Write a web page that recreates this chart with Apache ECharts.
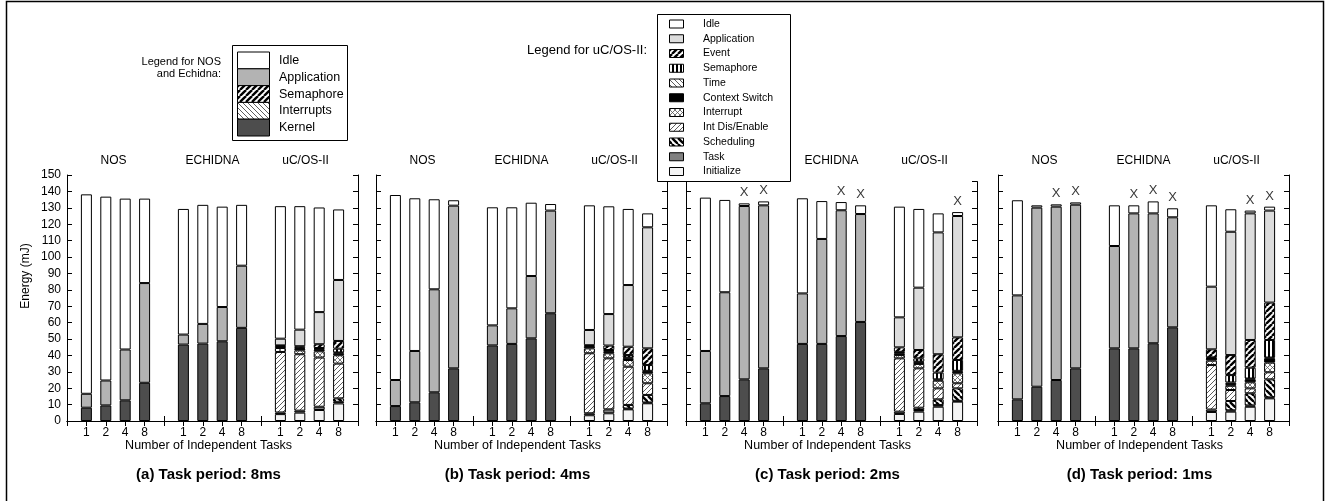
<!DOCTYPE html>
<html><head><meta charset="utf-8">
<script src="https://cdn.jsdelivr.net/npm/echarts@6/dist/echarts.min.js"></script>
<style>html,body{margin:0;padding:0;background:#fff;}#c{width:1326px;height:501px;}</style>
</head><body><div id="c"></div>
<script>
// ---------- data ----------
const tickLabels = ['', '1', '2', '4', '8', '', '1', '2', '4', '8', '', '1', '2', '4', '8', ''];
const groupNames = ['NOS', 'ECHIDNA', 'uC/OS-II'];
const panelTitles = ['(a) Task period: 8ms', '(b) Task period: 4ms', '(c) Task period: 2ms', '(d) Task period: 1ms'];

// NOS (1,2,4,8 tasks) followed by ECHIDNA (1,2,4,8 tasks); one row per panel (a..d)
const kernel = [
  [8.1, 9.5, 12.6, 23.3, 46.6, 47.2, 48.6, 56.8],
  [9.1, 11.4, 17.5, 32.1, 46.1, 47.0, 50.4, 65.7],
  [10.8, 15.2, 25.4, 32.1, 47.0, 47.0, 51.8, 60.4],
  [13.2, 20.9, 25.0, 32.1, 44.3, 44.3, 47.4, 57.1]
];
const application = [
  [8.5, 15.2, 31.0, 60.8, 6.1, 12.0, 20.9, 37.9],
  [15.9, 31.3, 62.8, 99.2, 12.2, 21.7, 38.0, 62.6],
  [31.9, 63.3, 105.7, 99.4, 30.8, 64.0, 76.7, 65.8],
  [63.4, 109.2, 105.7, 99.8, 62.4, 82.3, 79.2, 67.1]
];
const idle = [
  [121.6, 112.1, 92.0, 51.5, 76.6, 72.6, 61.2, 37.1],
  [112.8, 93.1, 54.9, 3.3, 72.0, 61.6, 44.7, 4.0],
  [93.5, 56.3, 1.6, 2.4, 58.0, 23.1, 5.0, 5.3],
  [58.0, 1.4, 1.4, 1.4, 24.8, 4.9, 7.3, 5.5]
];

// uC/OS-II (1,2,4,8 tasks); one row per panel (a..d)
const ucInitialize = [[4.2, 5.1, 6.7, 10.7], [3.5, 4.7, 7.1, 10.8], [4.3, 5.7, 8.7, 11.8], [5.5, 5.7, 8.7, 13.8]];
const ucTask = [[1.0, 1.2, 2.0, 1.0], [1.2, 2.4, 0.5, 0.5], [1.4, 1.0, 1.0, 0.5], [1.5, 0.8, 0.8, 0.6]];
const ucScheduling = [[0, 0, 0, 2.1], [0, 0, 2.2, 4.6], [0, 1.4, 3.5, 7.6], [0, 5.7, 7.4, 11.0]];
const ucIntDisEnable = [[36.9, 34.4, 30.0, 21.2], [36.6, 31.1, 23.3, 7.1], [32.5, 24.0, 6.7, 3.1], [27.1, 6.7, 3.0, 4.3]];
const ucInterrupt = [[2.4, 2.4, 3.8, 5.1], [3.0, 3.1, 4.1, 6.1], [2.0, 2.7, 4.7, 6.1], [2.7, 2.6, 3.7, 5.9]];
const ucContextSwitch = [[1.2, 1.0, 1.0, 1.2], [1.4, 1.0, 1.0, 1.0], [1.0, 1.0, 0.8, 1.0], [1.2, 1.0, 1.8, 2.6]];
const ucTime = [[0, 0.5, 0.5, 0.5], [0, 0.5, 0.5, 0.5], [0.5, 0.4, 0, 0.5], [0.3, 1.0, 0.5, 0.5]];
const ucSemaphore = [[0, 0, 0.5, 2.3], [0, 0.5, 1.5, 3.5], [0.5, 2.0, 4.1, 6.6], [0.5, 4.5, 6.6, 10.7]];
const ucEvent = [[0.4, 1.0, 2.3, 4.7], [0.5, 2.7, 5.1, 10.2], [2.7, 5.1, 11.2, 13.8], [4.9, 12.2, 16.9, 22.8]];
const ucApplication = [[4.1, 10.1, 19.6, 37.2], [9.3, 19.2, 37.6, 73.8], [18.3, 38.0, 74.3, 74.0], [38.2, 75.2, 77.2, 56.1]];
const ucIdle = [[80.8, 75.3, 63.8, 43.0], [76.0, 65.7, 46.4, 8.5], [67.5, 48.0, 11.6, 2.4], [49.6, 13.7, 1.7, 2.4]];

// bars marked with "X" (NOS 1,2,4,8 | ECHIDNA 1,2,4,8 | uC/OS-II 1,2,4,8)
const overflowMarks = [
  [0, 0, 0, 0, 0, 0, 0, 0, 0, 0, 0, 0],
  [0, 0, 0, 0, 0, 0, 0, 0, 0, 0, 0, 0],
  [0, 0, 1, 1, 0, 0, 1, 1, 0, 0, 0, 1],
  [0, 0, 1, 1, 0, 1, 1, 1, 0, 0, 1, 1]
];

// ---------- patterns ----------
function tile(size, draw) {
  const c = document.createElement('canvas');
  c.width = size; c.height = size;
  const g = c.getContext('2d');
  g.fillStyle = '#fff'; g.fillRect(0, 0, size, size);
  draw(g, size);
  return { image: c, repeat: 'repeat' };
}
function diag(dir, size, lw, color) {
  return tile(size, (g, s) => {
    g.strokeStyle = color; g.lineWidth = lw;
    for (let k = -s; k <= s; k += s) {
      g.beginPath();
      if (dir === 'f') { g.moveTo(k, s); g.lineTo(k + s, 0); }
      else { g.moveTo(k, 0); g.lineTo(k + s, s); }
      g.stroke();
    }
  });
}
const P = {
  thinF: diag('f', 5, 0.8, '#333'),
  thinB: diag('b', 5, 0.8, '#333'),
  thickF: diag('f', 6, 2.4, '#000'),
  thickB: diag('b', 6, 2.4, '#000'),
  cross: tile(5, (g, s) => {
    g.strokeStyle = '#555'; g.lineWidth = 0.8;
    for (let k = -s; k <= s; k += s) {
      g.beginPath(); g.moveTo(k, s); g.lineTo(k + s, 0); g.stroke();
      g.beginPath(); g.moveTo(k, 0); g.lineTo(k + s, s); g.stroke();
    }
  }),
  vert: tile(4, (g, s) => { g.fillStyle = '#000'; g.fillRect(0, 0, 2, s); })
};

const nosLayers = [
  { name: 'Kernel', color: '#4d4d4d', data: kernel },
  { name: 'Application', color: '#b3b3b3', data: application },
  { name: 'Idle', color: '#ffffff', data: idle }
];
const ucLayers = [
  { name: 'Initialize', color: '#f4f4f4', data: ucInitialize },
  { name: 'Task', color: '#808080', data: ucTask },
  { name: 'Scheduling', color: P.thickB, data: ucScheduling },
  { name: 'Int Dis/Enable', color: P.thinF, data: ucIntDisEnable },
  { name: 'Interrupt', color: P.cross, data: ucInterrupt },
  { name: 'Context Switch', color: '#000000', data: ucContextSwitch },
  { name: 'Time', color: P.thinB, data: ucTime },
  { name: 'Semaphore', color: P.vert, data: ucSemaphore },
  { name: 'Event', color: P.thickF, data: ucEvent },
  { name: 'Application', color: '#dcdcdc', data: ucApplication },
  { name: 'Idle', color: '#ffffff', data: ucIdle }
];

// ---------- layout ----------
const FONT = 'Liberation Sans, Arial, Helvetica, sans-serif';
const panelLeft = [67, 376, 686, 998];
const panelWidth = 291;
const plotBottom = 421;
const pxPerUnit = 246 / 150;
const panelMax = [150, 150, 146, 150];
const nosCat = [1, 2, 3, 4, 6, 7, 8, 9];
const ucCat = [11, 12, 13, 14];

const grids = [], xAxes = [], yAxes = [], series = [], graphics = [];
const centered = { textAlign: 'center', align: 'center', textVerticalAlign: 'middle', verticalAlign: 'middle', fill: '#000' };

for (let p = 0; p < 4; p++) {
  const h = panelMax[p] * pxPerUnit;
  grids.push({ left: panelLeft[p], top: plotBottom - h, width: panelWidth, height: h });
  const axLine = { show: true, lineStyle: { color: '#000', width: 1 } };
  const tick = { show: true, inside: true, length: 5, interval: 0, lineStyle: { color: '#000', width: 1 } };
  xAxes.push({
    gridIndex: p, type: 'category', data: tickLabels, boundaryGap: false, position: 'bottom',
    axisLine: axLine, axisTick: tick,
    axisLabel: { interval: 0, color: '#000', fontSize: 12, fontFamily: FONT, margin: 6 },
    splitLine: { show: false }
  });
  xAxes.push({
    gridIndex: p, type: 'category', data: tickLabels, boundaryGap: false, position: 'top',
    axisLine: axLine, axisTick: tick, axisLabel: { show: false }, splitLine: { show: false }
  });
  const yBase = {
    gridIndex: p, type: 'value', min: 0, max: panelMax[p], interval: 10,
    axisLine: axLine, axisTick: { show: true, inside: true, length: 5, lineStyle: { color: '#000' } },
    splitLine: { show: false }
  };
  yAxes.push(Object.assign({}, yBase, {
    position: 'left',
    axisLabel: { show: p === 0, color: '#000', fontSize: 12, fontFamily: FONT, margin: 6 }
  }));
  yAxes.push(Object.assign({}, yBase, { position: 'right', axisLabel: { show: false } }));

  const xi = p * 2, yi = p * 2;
  const mk = (layerName, color, cats, vals) => {
    const d = tickLabels.map(() => '-');
    cats.forEach((c, i) => { d[c] = vals[i] > 0 ? vals[i] : '-'; });
    series.push({
      type: 'bar', name: layerName, xAxisIndex: xi, yAxisIndex: yi, stack: 'panel' + p,
      barWidth: 11, data: d, animation: false,
      itemStyle: { color: color, borderColor: '#000', borderWidth: 1 },
      emphasis: { disabled: true }
    });
  };
  nosLayers.forEach(l => mk(l.name, l.color, nosCat, l.data[p]));
  ucLayers.forEach(l => mk(l.name, l.color, ucCat, l.data[p]));

  // X marks above the totals
  const marks = [];
  overflowMarks[p].forEach((f, i) => {
    if (!f) return;
    let total, cat;
    if (i < 8) { cat = nosCat[i]; total = nosLayers.reduce((s, l) => s + l.data[p][i], 0); }
    else { cat = ucCat[i - 8]; total = ucLayers.reduce((s, l) => s + l.data[p][i - 8], 0); }
    marks.push([cat, total]);
  });
  series.push({
    type: 'scatter', xAxisIndex: xi, yAxisIndex: yi, data: marks, symbol: 'circle', symbolSize: 2,
    itemStyle: { color: 'rgba(0,0,0,0)' }, animation: false, z: 5, silent: true,
    label: { show: true, formatter: 'X', position: 'top', distance: 3, color: '#000', fontSize: 13, fontFamily: FONT }
  });

  // group titles
  const step = panelWidth / 15;
  [2.4, 7.5, 12.3].forEach((c, g) => {
    graphics.push({ type: 'text', x: panelLeft[p] + c * step, y: 161, z: 10,
      style: Object.assign({ text: groupNames[g], font: '12px ' + FONT }, centered) });
  });
  graphics.push({ type: 'text', x: panelLeft[p] + panelWidth / 2 - 4, y: 446, z: 10,
    style: Object.assign({ text: 'Number of Independent Tasks', font: '12.5px ' + FONT }, centered) });
  graphics.push({ type: 'text', x: panelLeft[p] + panelWidth / 2 - 4, y: 475, z: 10,
    style: Object.assign({ text: panelTitles[p], font: 'bold 15px ' + FONT }, centered) });
}

// y axis name
graphics.push({ type: 'text', x: 26, y: 276, rotation: Math.PI / 2, z: 10,
  style: Object.assign({ text: 'Energy (mJ)', font: '12px ' + FONT }, centered) });

// outer border
graphics.push({ type: 'rect', z: 1, shape: { x: 6.5, y: 1.5, width: 1317, height: 530 }, style: { fill: 'none', stroke: '#000', lineWidth: 1.5 } });

// legend for NOS and Echidna
const legendNos = [
  { name: 'Idle', fill: '#ffffff' },
  { name: 'Application', fill: '#b3b3b3' },
  { name: 'Semaphore', fill: P.thickF },
  { name: 'Interrupts', fill: P.thinB },
  { name: 'Kernel', fill: '#4d4d4d' }
];
const leftAl = { textAlign: 'left', align: 'left', textVerticalAlign: 'middle', verticalAlign: 'middle', fill: '#000' };
const rightAl = { textAlign: 'right', align: 'right', textVerticalAlign: 'middle', verticalAlign: 'middle', fill: '#000' };
graphics.push({ type: 'text', x: 221, y: 62, z: 10, style: Object.assign({ text: 'Legend for NOS', font: '11px ' + FONT }, rightAl) });
graphics.push({ type: 'text', x: 221, y: 73.5, z: 10, style: Object.assign({ text: 'and Echidna:', font: '11px ' + FONT }, rightAl) });
graphics.push({ type: 'rect', z: 20, shape: { x: 232.5, y: 45.5, width: 115, height: 95 }, style: { fill: '#fff', stroke: '#000', lineWidth: 1 } });
legendNos.forEach((l, i) => {
  const y = 52 + i * 16.8;
  graphics.push({ type: 'rect', z: 21, shape: { x: 237.5, y: y, width: 32, height: 16.8 }, style: { fill: l.fill, stroke: '#000', lineWidth: 1 } });
  graphics.push({ type: 'text', z: 21, x: 279, y: y + 8.6, style: Object.assign({ text: l.name, font: '12.5px ' + FONT }, leftAl) });
});

// legend for uC/OS-II
graphics.push({ type: 'text', x: 647, y: 50, z: 10, style: Object.assign({ text: 'Legend for uC/OS-II:', font: '13px ' + FONT }, rightAl) });
graphics.push({ type: 'rect', z: 20, shape: { x: 657.5, y: 14.5, width: 133, height: 167 }, style: { fill: '#fff', stroke: '#000', lineWidth: 1 } });
ucLayers.slice().reverse().forEach((l, i) => {
  const y = 24 + i * 14.75;
  graphics.push({ type: 'rect', z: 21, shape: { x: 669.5, y: y - 4, width: 14, height: 8 }, style: { fill: l.color, stroke: '#000', lineWidth: 1 } });
  graphics.push({ type: 'text', z: 21, x: 703, y: y, style: Object.assign({ text: l.name, font: '10.5px ' + FONT }, leftAl) });
});

const chart = echarts.init(document.getElementById('c'));
chart.setOption({
  animation: false,
  backgroundColor: '#fff',
  grid: grids, xAxis: xAxes, yAxis: yAxes, series: series,
  graphic: { elements: graphics }
});
</script></body></html>
